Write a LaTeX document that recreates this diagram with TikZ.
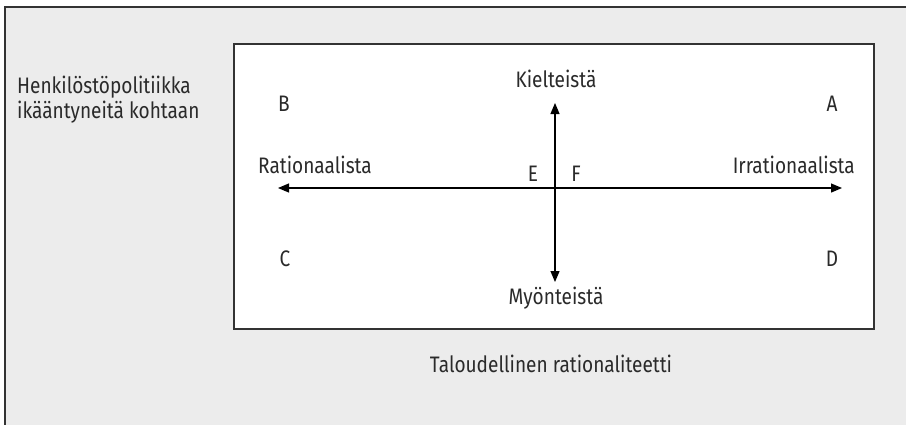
\documentclass[tikz,border=0pt]{standalone}
\usepackage{fontspec}
\setmainfont{Fira Sans}[FakeStretch=0.85]
\usetikzlibrary{arrows.meta}
\definecolor{bggray}{HTML}{ECECEC}
\definecolor{linegray}{HTML}{333333}
\definecolor{textgray}{HTML}{2A2A2A}
\tikzset{
  lbl/.style={inner sep=0pt, text=textgray, font=\fontsize{22.5}{25}\selectfont},
  frame/.style={draw=linegray, line width=1.4bp},
  axis/.style={draw=black, line width=1.2bp, {Triangle[length=11bp,width=9bp]}-{Triangle[length=11bp,width=9bp]}}
}
\begin{document}
\begin{tikzpicture}[x=1bp,y=-1bp]
\useasboundingbox (0,0) rectangle (906,424);
\clip (0,0) rectangle (906,424);
\draw[frame, fill=bggray] (5,7) rectangle (930,450);
\draw[frame, fill=white] (234,44) rectangle (874,329);
% axis endpoints
\coordinate (hl) at (278,188);
\coordinate (hr) at (842,188);
\coordinate (vt) at (555,103);
\coordinate (vb) at (555,282);
\draw[axis] (hl) -- (hr);
\draw[axis] (vt) -- (vb);
% labels
\node[lbl, anchor=base west, align=left] (hp) at (17,118) {Henkilöstöpolitiikka\\ikääntyneitä kohtaan};
\node[lbl, anchor=base] (B) at (284,111) {B};
\node[lbl, anchor=base] (A) at (832,111) {A};
\node[lbl, anchor=base] (C) at (285,266) {C};
\node[lbl, anchor=base] (D) at (832,266) {D};
\node[lbl, anchor=base] (K) at (556,87) {Kielteistä};
\node[lbl, anchor=base] (M) at (556,304) {Myönteistä};
\node[lbl, anchor=base] (E) at (533,181) {E};
\node[lbl, anchor=base] (F) at (576,181) {F};
\node[lbl, anchor=base west] (R) at (258,173) {Rationaalista};
\node[lbl, anchor=base east] (I) at (855,173) {Irrationaalista};
\node[lbl, anchor=base] (T) at (551,372) {Taloudellinen rationaliteetti};
\end{tikzpicture}
\end{document}
